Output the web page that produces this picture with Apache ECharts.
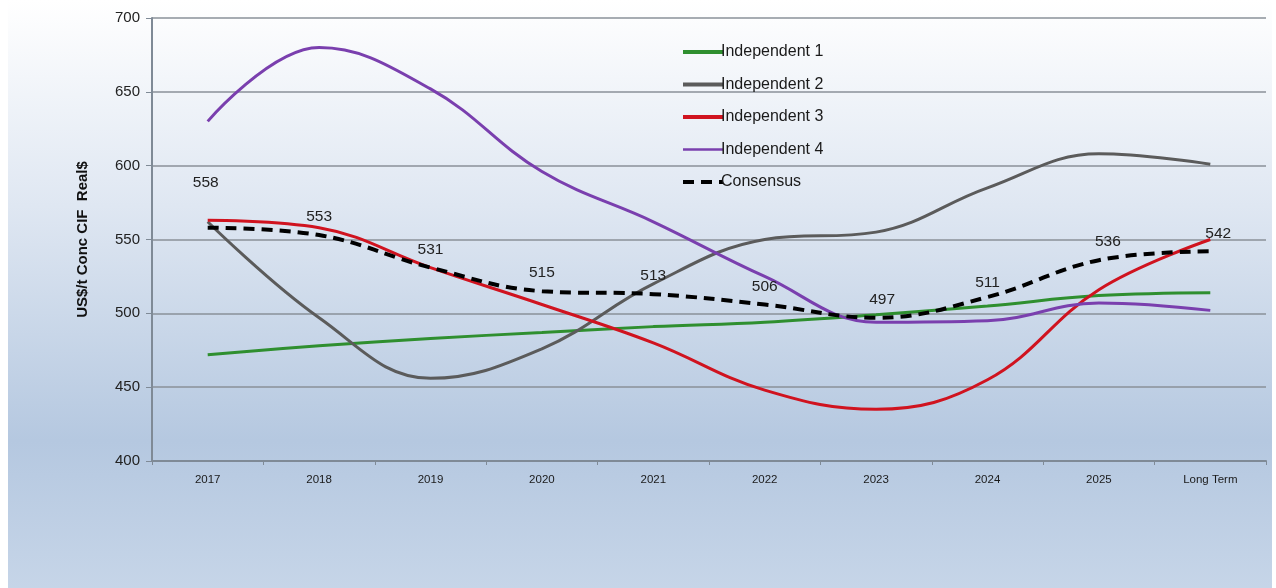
<!DOCTYPE html>
<html>
<head>
<meta charset="utf-8">
<script src="https://cdn.jsdelivr.net/npm/echarts@6/dist/echarts.min.js"></script>
<style>
    html, body { margin: 0; padding: 0; background: #ffffff; }
    #frame {
        position: absolute; left: 8px; top: 0; width: 1264px; height: 588px;
        background: linear-gradient(to bottom, #ffffff 0%, #dfe7f2 35%, #b5c8e0 75%, #c6d5e8 100%);
    }
    #main { position: absolute; left: 0; top: 0; width: 1276px; height: 588px; }
</style>
</head>
<body>
<div id="frame"></div>
<div id="main"></div>
<script>
    'use strict'

    var categories = ['2017', '2018', '2019', '2020', '2021', '2022', '2023', '2024', '2025', 'Long Term'];
    var independent1 = [472, 478, 483, 487, 491, 494, 499, 505, 512, 514];
    var independent2 = [562, 497, 456, 476, 520, 550, 555, 585, 608, 601];
    var independent3 = [563, 558, 531, 506, 480, 448, 435, 455, 516, 550];
    var independent4 = [630, 680, 652, 596, 562, 525, 494, 495, 507, 502];
    var consensus = [558, 553, 531, 515, 513, 506, 497, 511, 536, 542];
    var yTicks = [400, 450, 500, 550, 600, 650, 700];

    // label nudges for the consensus values
    var labelOffsets = [[-2, -27], [0, 0], [0, 0], [0, 0], [0, 0], [0, 0], [6, 0], [0, 4], [9, 0], [8, 0]];

    var consensusData = consensus.map(function (v, i) {
        return { value: v, label: { offset: labelOffsets[i] } };
    });

    function lineSeries(name, data, color, width) {
        return {
            name: name,
            type: 'line',
            smooth: 0.4,
            symbol: 'none',
            data: data,
            lineStyle: { color: color, width: width },
            itemStyle: { color: color }
        };
    }

    var chart = echarts.init(document.getElementById('main'));
    var option = {
        animation: false,
        backgroundColor: 'transparent',
        textStyle: { fontFamily: 'Liberation Sans, Arial, sans-serif' },
        grid: {
            top: 18,
            right: 10,
            bottom: 127,
            left: 152
        },
        legend: {
            orient: 'vertical',
            left: 676,
            top: 39,
            itemGap: 16.5,
            itemWidth: 40,
            itemHeight: 4,
            itemStyle: { opacity: 0 },
            lineStyle: { width: 4 },
            textStyle: { fontSize: 16, color: '#1a1a1a', padding: [0, 0, 0, -7] },
            data: [
                { name: 'Independent 1' },
                { name: 'Independent 2' },
                { name: 'Independent 3' },
                { name: 'Independent 4', lineStyle: { width: 2.5 } },
                { name: 'Consensus' }
            ]
        },
        xAxis: {
            type: 'category',
            data: categories,
            boundaryGap: true,
            axisLine: { lineStyle: { color: '#7f8a96', width: 2 } },
            axisTick: { show: true, length: 4, lineStyle: { color: '#7f8a96' } },
            axisLabel: { fontSize: 11.5, color: '#1a1a1a', margin: 13 }
        },
        yAxis: {
            type: 'value',
            min: 400,
            max: 700,
            interval: 50,
            name: 'US$/t Conc CIF  Real$',
            nameLocation: 'middle',
            nameGap: 62,
            nameTextStyle: { fontSize: 15, fontWeight: 'bold', color: '#111' },
            axisLine: { show: true, lineStyle: { color: '#7f8a96', width: 2 } },
            axisTick: { show: true, length: 6, lineStyle: { color: '#7f8a96' } },
            splitLine: { lineStyle: { color: '#8a9099', width: 1.5 } },
            axisLabel: {
                fontSize: 15, color: '#222', margin: 12,
                formatter: function (v) { return yTicks.indexOf(v) >= 0 ? String(v) : ''; }
            }
        },
        series: [
            lineSeries('Independent 1', independent1, '#2f8f2f', 3),
            lineSeries('Independent 2', independent2, '#5b5b5b', 3),
            lineSeries('Independent 3', independent3, '#d0131f', 3),
            lineSeries('Independent 4', independent4, '#7a3fae', 3),
            {
                name: 'Consensus',
                type: 'line',
                smooth: 0.4,
                symbol: 'circle',
                symbolSize: 0,
                showSymbol: true,
                data: consensusData,
                z: 5,
                lineStyle: { color: '#000000', width: 4, type: [11, 7] },
                itemStyle: { color: '#000000' },
                label: {
                    show: true,
                    position: 'top',
                    distance: 10,
                    fontSize: 15.5,
                    color: '#222'
                }
            }
        ]
    };
    chart.setOption(option);
    window.addEventListener('resize', function () {
        chart.resize();
    })
</script>
</body>
</html>
